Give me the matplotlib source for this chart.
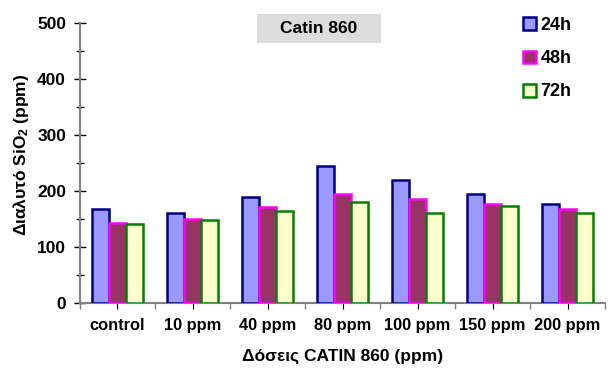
import numpy as np
import matplotlib.pyplot as plt
from matplotlib.patches import Rectangle, Patch
from matplotlib.ticker import MultipleLocator, FixedLocator

plt.rcParams['font.family'] = ['Liberation Sans', 'DejaVu Sans']
plt.rcParams['font.weight'] = 'bold'
plt.rcParams['mathtext.fontset'] = 'custom'
plt.rcParams['mathtext.rm'] = 'Liberation Sans:bold'
plt.rcParams['mathtext.bf'] = 'Liberation Sans:bold'
plt.rcParams['mathtext.default'] = 'bf'

# δεδομένα
categories = ['control', '10 ppm', '40 ppm', '80 ppm', '100 ppm', '150 ppm', '200 ppm']
series_names = ['24h', '48h', '72h']
vals_24h = [168, 160, 189, 245, 220, 195, 177]
vals_48h = [142, 150, 171, 194, 186, 177, 167]
vals_72h = [141, 149, 165, 180, 160, 174, 161]

FILLS = ['#9999FF', '#993366', '#FFFFCC']
EDGES = ['#000080', '#FF00FF', '#008000']

fig = plt.figure(figsize=(6.12, 3.72), dpi=100)
ax = fig.add_axes([0.1307, 0.1855, 0.858, 0.7527])

x = np.arange(len(categories))
w = 0.227
for i, vals in enumerate([vals_24h, vals_48h, vals_72h]):
    ax.bar(x + (i - 1) * w, vals, width=w, color=FILLS[i],
           edgecolor=EDGES[i], linewidth=1.8, zorder=3)

ax.set_xlim(-0.5, len(categories) - 0.5)
ax.set_ylim(0, 500)
ax.yaxis.set_major_locator(MultipleLocator(100))
ax.yaxis.set_minor_locator(MultipleLocator(50))
ax.set_xticks(x)
ax.set_xticklabels(categories, fontsize=11.8, fontweight='bold')
ax.xaxis.set_minor_locator(FixedLocator(np.arange(-0.5, len(categories), 1.0)))
for lab in ax.get_yticklabels():
    lab.set_fontsize(12.5)
    lab.set_fontweight('bold')

ax.tick_params(axis='y', which='both', direction='inout', color='black', width=1)
ax.tick_params(axis='y', which='major', length=8, pad=6)
ax.tick_params(axis='y', which='minor', length=6)
ax.tick_params(axis='x', which='major', direction='inout', length=8, color='black', pad=7)
ax.tick_params(axis='x', which='minor', direction='out', length=4, color='#808080', width=1)

for s in ['top', 'right']:
    ax.spines[s].set_visible(False)
for s in ['left', 'bottom']:
    ax.spines[s].set_color('#808080')
    ax.spines[s].set_linewidth(1.5)

ax.set_ylabel('Διαλυτό SiO$_2$ (ppm)', fontsize=12.5, fontweight='bold')
ax.yaxis.set_label_coords(-0.093, 0.53)
ax.set_xlabel('Δόσεις CATIN 860 (ppm)', fontsize=12.5, fontweight='bold', labelpad=11)

# τίτλος σε γκρι πλαίσιο
fig.patches.append(Rectangle((257 / 612, 1 - 43 / 372), 124 / 612, 29 / 372,
                             transform=fig.transFigure, facecolor='#DDDDDD',
                             edgecolor='none'))
fig.text(319 / 612, 1 - 28.5 / 372, 'Catin 860', ha='center', va='center',
         fontsize=12.5, fontweight='bold')

handles = [Patch(facecolor=FILLS[i], edgecolor=EDGES[i], linewidth=1.8)
           for i in range(3)]
fig.legend(handles, series_names, loc='upper left',
           bbox_to_anchor=(523 / 612, 1 - 17 / 372), frameon=False,
           prop={'size': 13, 'weight': 'bold'}, handlelength=0.72,
           handleheight=0.72, handletextpad=0.25, labelspacing=0.9,
           borderpad=0, borderaxespad=0)

fig.savefig('out.png', dpi=100, facecolor='white')
